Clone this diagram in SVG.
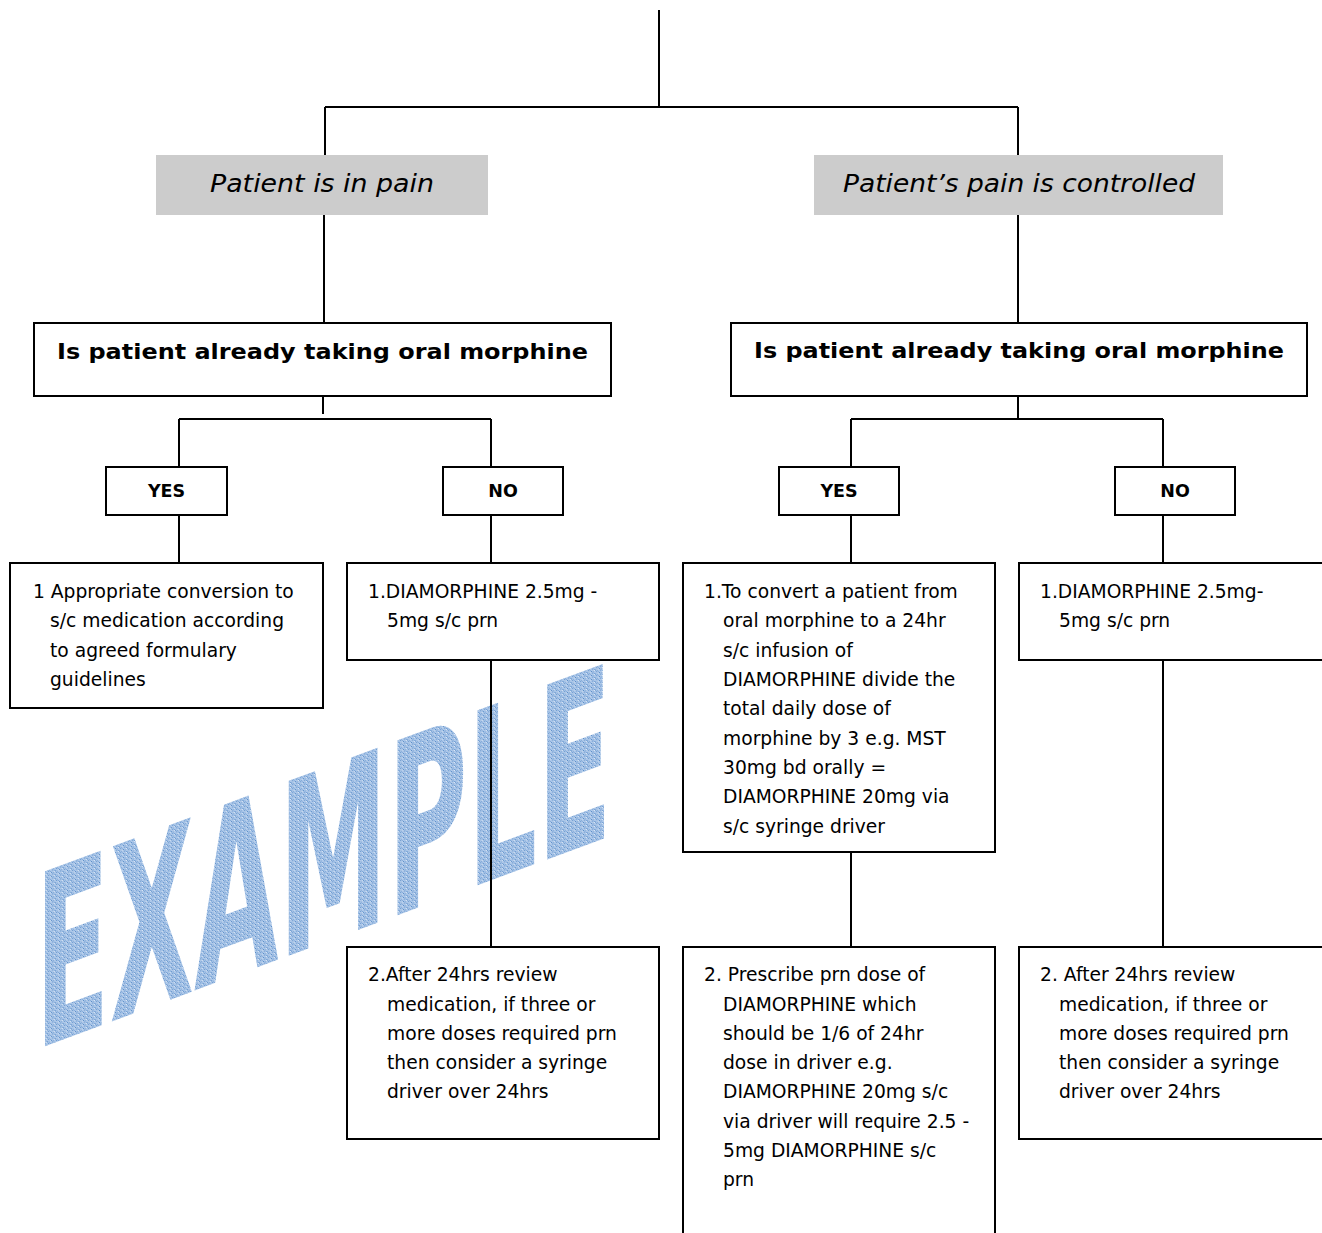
<svg xmlns="http://www.w3.org/2000/svg" width="1322" height="1233" viewBox="0 0 1322 1233">
<defs>
<pattern id="speck" width="4" height="4" patternUnits="userSpaceOnUse">
<rect width="4" height="4" fill="#a9c5e8"/>
<rect x="0" y="0" width="1" height="1" fill="#3f7bc0"/>
<rect x="2" y="1" width="1" height="1" fill="#5d91cf"/>
<rect x="1" y="2" width="1" height="1" fill="#3f7bc0"/>
<rect x="3" y="3" width="1" height="1" fill="#5d91cf"/>
<rect x="3" y="0" width="1" height="1" fill="#dce8f6"/>
</pattern>
</defs>
<style>
.box{fill:#fff;stroke:#000;stroke-width:2}
.grey{fill:#cccccc;stroke:none}
.ln{stroke:#000;stroke-width:2;fill:none}
.t{font-family:"DejaVu Sans","Verdana",sans-serif;font-size:18.7px;fill:#000}
.hd{font-family:"DejaVu Sans","Verdana",sans-serif;font-size:22px;font-weight:bold;fill:#000}
.yn{font-family:"DejaVu Sans","Verdana",sans-serif;font-size:17.5px;font-weight:bold;fill:#000}
.it{font-family:"DejaVu Sans","Verdana",sans-serif;font-size:25px;font-style:italic;fill:#000}
</style>
<rect width="1322" height="1233" fill="#fff"/>

<g id="watermark" opacity="0.9">
<text transform="translate(35,1050) skewY(-20.4)" x="0" y="0" font-family="DejaVu Sans, sans-serif" font-weight="bold" font-size="240" fill="url(#speck)" textLength="577" lengthAdjust="spacingAndGlyphs">EXAMPLE</text>
</g>

<g id="connectors">
<path class="ln" d="M659,10 V107 M325,107 H1018 M325,107 V155 M324,215 V323 M1018,107 V155 M1018,215 V323"/>
<path class="ln" d="M323,396 V414 M179,419 H491 M179,419 V467 M491,419 V467"/>
<path class="ln" d="M1018,396 V419 M851,419 H1163 M851,419 V467 M1163,419 V467"/>
<path class="ln" d="M179,515 V563 M491,515 V563 M851,515 V563 M1163,515 V563"/>
<path class="ln" d="M491,660 V947 M851,852 V947 M1163,660 V947"/>
</g>

<g id="pain">
<rect class="grey" x="156" y="155" width="332" height="60"/>
<text class="it" x="322" y="192" text-anchor="middle" textLength="224" lengthAdjust="spacingAndGlyphs">Patient is in pain</text>
</g>
<g id="controlled">
<rect class="grey" x="814" y="155" width="409" height="60"/>
<text class="it" x="1019" y="192" text-anchor="middle" textLength="352" lengthAdjust="spacingAndGlyphs">Patient’s pain is controlled</text>
</g>

<g id="q-left">
<rect class="box" x="34" y="323" width="577" height="73"/>
<text class="hd" x="57" y="359" textLength="531" lengthAdjust="spacingAndGlyphs">Is patient already taking oral morphine</text>
</g>
<g id="q-right">
<rect class="box" x="731" y="323" width="576" height="73"/>
<text class="hd" x="754" y="358" textLength="530" lengthAdjust="spacingAndGlyphs">Is patient already taking oral morphine</text>
</g>

<g id="yes-left">
<rect class="box" x="106" y="467" width="121" height="48"/>
<text class="yn" x="166.5" y="497" text-anchor="middle">YES</text>
</g>
<g id="no-left">
<rect class="box" x="443" y="467" width="120" height="48"/>
<text class="yn" x="503" y="497" text-anchor="middle">NO</text>
</g>
<g id="yes-right">
<rect class="box" x="779" y="467" width="120" height="48"/>
<text class="yn" x="839" y="497" text-anchor="middle">YES</text>
</g>
<g id="no-right">
<rect class="box" x="1115" y="467" width="120" height="48"/>
<text class="yn" x="1175" y="497" text-anchor="middle">NO</text>
</g>

<g id="conversion">
<rect class="box" x="10" y="563" width="313" height="145"/>
<text class="t" x="33" y="598">1 Appropriate conversion to</text>
<text class="t" x="50" y="627">s/c medication according</text>
<text class="t" x="50" y="657">to agreed formulary</text>
<text class="t" x="50" y="686">guidelines</text>
</g>

<g id="diam-left">
<rect class="box" x="347" y="563" width="312" height="97"/>
<text class="t" x="368" y="598">1.DIAMORPHINE 2.5mg -</text>
<text class="t" x="387" y="627">5mg s/c prn</text>
</g>

<g id="review-left">
<rect class="box" x="347" y="947" width="312" height="192"/>
<text class="t" x="368" y="981">2.After 24hrs review</text>
<text class="t" x="387" y="1011">medication, if three or</text>
<text class="t" x="387" y="1040">more doses required prn</text>
<text class="t" x="387" y="1069">then consider a syringe</text>
<text class="t" x="387" y="1098">driver over 24hrs</text>
</g>

<g id="convert">
<rect class="box" x="683" y="563" width="312" height="289"/>
<text class="t" x="704" y="598">1.To convert a patient from</text>
<text class="t" x="723" y="627">oral morphine to a 24hr</text>
<text class="t" x="723" y="657">s/c infusion of</text>
<text class="t" x="723" y="686">DIAMORPHINE divide the</text>
<text class="t" x="723" y="715">total daily dose of</text>
<text class="t" x="723" y="745">morphine by 3 e.g. MST</text>
<text class="t" x="723" y="774">30mg bd orally =</text>
<text class="t" x="723" y="803">DIAMORPHINE 20mg via</text>
<text class="t" x="723" y="833">s/c syringe driver</text>
</g>

<g id="prescribe">
<path class="ln" d="M683,1240 V947 H995 V1240" style="fill:#fff"/>
<text class="t" x="704" y="981">2. Prescribe prn dose of</text>
<text class="t" x="723" y="1011">DIAMORPHINE which</text>
<text class="t" x="723" y="1040">should be 1/6 of 24hr</text>
<text class="t" x="723" y="1069">dose in driver e.g.</text>
<text class="t" x="723" y="1098">DIAMORPHINE 20mg s/c</text>
<text class="t" x="723" y="1128">via driver will require 2.5 -</text>
<text class="t" x="723" y="1157">5mg DIAMORPHINE s/c</text>
<text class="t" x="723" y="1186">prn</text>
</g>

<g id="diam-right">
<rect class="box" x="1019" y="563" width="320" height="97"/>
<text class="t" x="1040" y="598">1.DIAMORPHINE 2.5mg-</text>
<text class="t" x="1059" y="627">5mg s/c prn</text>
</g>

<g id="review-right">
<rect class="box" x="1019" y="947" width="320" height="192"/>
<text class="t" x="1040" y="981">2. After 24hrs review</text>
<text class="t" x="1059" y="1011">medication, if three or</text>
<text class="t" x="1059" y="1040">more doses required prn</text>
<text class="t" x="1059" y="1069">then consider a syringe</text>
<text class="t" x="1059" y="1098">driver over 24hrs</text>
</g>
</svg>
